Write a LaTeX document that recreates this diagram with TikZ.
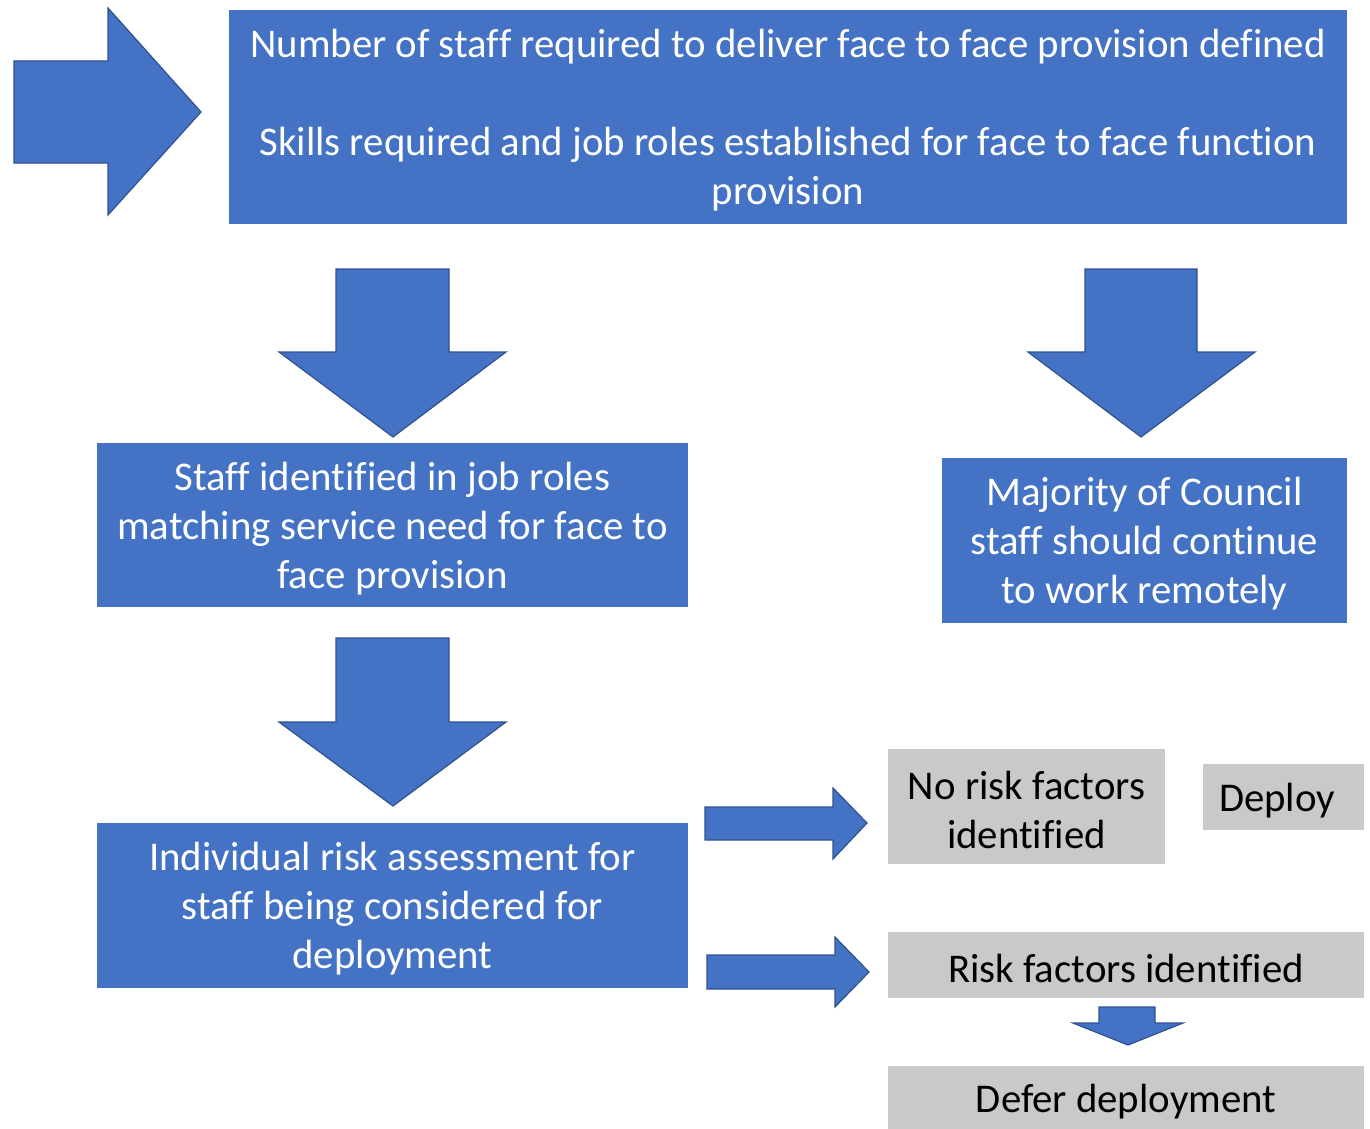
\documentclass[tikz,border=0pt]{standalone}
\usepackage{fontspec}
\setmainfont[Ligatures=NoCommon]{Carlito}
\definecolor{boxblue}{HTML}{4472C4}
\definecolor{edgeblue}{HTML}{2F528F}
\definecolor{boxgray}{HTML}{C9C9C9}
\begin{document}
\begin{tikzpicture}[x=0.5pt,y=-0.5pt,
  blockarrow/.style={fill=boxblue,draw=edgeblue,line width=0.6pt,line join=miter},
  bluebox/.style={fill=boxblue,inner sep=0pt},
  graybox/.style={fill=boxgray,inner sep=0pt},
  label/.style={inner sep=0pt,align=center,yshift=-1.6pt,
    font=\fontsize{20.4}{24.5}\selectfont},
  whitelabel/.style={label,text=white}]
\useasboundingbox (0,0) rectangle (1370,1129);

% entry arrow on the left
\draw[blockarrow] (14,61) -- (108,61) -- (108,8) -- (201,112) -- (108,215)
  -- (108,163) -- (14,163) -- cycle;

% top box
\node[bluebox,minimum width=559pt,minimum height=107pt] (top) at (788,117) {};
\node[whitelabel] (toptext) at (top.center)
  {Number of staff required to deliver face to face provision defined\\[24.5pt]
   Skills required and job roles established for face to face function\\
   provision};

% down arrows from the top box
\draw[blockarrow] (336,269) -- (449,269) -- (449,352) -- (506,352) -- (393,437)
  -- (279,352) -- (336,352) -- cycle;
\draw[blockarrow] (1085,269) -- (1197,269) -- (1197,352) -- (1255,352) -- (1141,437)
  -- (1028,352) -- (1085,352) -- cycle;

% second row
\node[bluebox,minimum width=295.5pt,minimum height=82pt] (staff) at (392.5,525) {};
\node[whitelabel] (stafftext) at (staff.center)
  {Staff identified in job roles\\ matching service need for face to\\ face provision};
\node[bluebox,minimum width=202.5pt,minimum height=82.5pt] (remote) at (1144.5,540.5) {};
\node[whitelabel] (remotetext) at (remote.center)
  {Majority of Council\\ staff should continue\\ to work remotely};

% down arrow to the assessment
\draw[blockarrow] (336,638) -- (449,638) -- (449,722) -- (506,722) -- (393,806)
  -- (279,722) -- (336,722) -- cycle;

\node[bluebox,minimum width=295.5pt,minimum height=82.5pt] (assess) at (392.5,905.5) {};
\node[whitelabel] (assesstext) at (assess.center)
  {Individual risk assessment for\\ staff being considered for\\ deployment};

% outcome arrows
\draw[blockarrow] (705,807) -- (833,807) -- (833,788) -- (867,823) -- (833,859)
  -- (833,840) -- (705,840) -- cycle;
\draw[blockarrow] (707,955) -- (835,955) -- (835,937) -- (869,972) -- (835,1007)
  -- (835,989) -- (707,989) -- cycle;

% outcomes
\node[graybox,minimum width=138.5pt,minimum height=57.5pt] (norisk) at (1026.5,806.5) {};
\node[label] (norisktext) at (norisk.center) {No risk factors\\ identified};
\node[graybox,minimum width=80.5pt,minimum height=33pt] (deploy) at (1283.5,797) {};
\node[label] (deploytext) at (1277,797) {Deploy};
\node[graybox,minimum width=238pt,minimum height=33pt] (risk) at (1126,965) {};
\node[label] (risktext) at (risk.center) {Risk factors identified};

\draw[blockarrow] (1099,1007) -- (1155,1007) -- (1155,1023) -- (1183,1023) -- (1128,1045)
  -- (1073,1023) -- (1099,1023) -- cycle;

\fill[boxgray] (888,1066) rectangle (1364,1129);
\node[label] (defer) at (1126,1098) {Defer deployment};
\end{tikzpicture}
\end{document}
